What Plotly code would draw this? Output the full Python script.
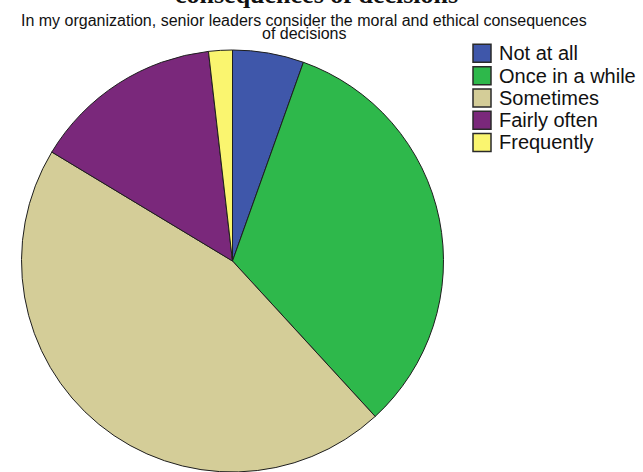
import plotly.graph_objects as go

W, H = 643, 472

categories = ["Not at all", "Once in a while", "Sometimes", "Fairly often", "Frequently"]
counts = [3, 18, 25, 8, 1]
colors = ["#3F57AA", "#2EB84B", "#D4CD98", "#7A287B", "#FAF56F"]

title_text = "consequences of decisions"
subtitle_line1 = "In my organization, senior leaders consider the moral and ethical consequences"
subtitle_line2 = "of decisions"


def px(x):
    return x / W


def py(y):
    return 1 - y / H


fig = go.Figure(
    go.Pie(
        labels=categories,
        values=counts,
        marker=dict(colors=colors, line=dict(color="#1e1e1e", width=1)),
        sort=False,
        direction="clockwise",
        rotation=0,
        textinfo="none",
        hoverinfo="label+value+percent",
        showlegend=False,
        domain=dict(x=[px(18), px(447)], y=[0, py(50)]),
    )
)

shapes = []
annotations = []

# manual legend
row_centers = [53.3, 75.8, 98.0, 120.2, 142.4]
for cat, col, yc in zip(categories, colors, row_centers):
    shapes.append(dict(
        type="rect", xref="paper", yref="paper",
        x0=px(473), x1=px(491), y0=py(yc - 9), y1=py(yc + 9),
        fillcolor=col, line=dict(color="#2a2a2a", width=1.5),
    ))
    annotations.append(dict(
        text=cat, x=px(497), y=py(yc), xref="paper", yref="paper",
        xanchor="left", yanchor="middle", showarrow=False,
        font=dict(family="Liberation Sans, Arial", size=20, color="#111111"),
    ))

# clipped main title
annotations.append(dict(
    text="<b>" + title_text + "</b>", x=px(316), y=py(-5.6), xref="paper", yref="paper",
    xanchor="center", yanchor="middle", showarrow=False,
    font=dict(family="Liberation Serif, Times New Roman", size=26, color="#111111"),
))
annotations.append(dict(
    text=subtitle_line1, x=px(304), y=py(21), xref="paper", yref="paper",
    xanchor="center", yanchor="middle", showarrow=False,
    font=dict(family="Liberation Sans, Arial", size=16, color="#111111"),
))
annotations.append(dict(
    text=subtitle_line2, x=px(304), y=py(33.5), xref="paper", yref="paper",
    xanchor="center", yanchor="middle", showarrow=False,
    font=dict(family="Liberation Sans, Arial", size=16, color="#111111"),
))

fig.update_layout(
    width=W, height=H,
    margin=dict(l=0, r=0, t=0, b=0),
    paper_bgcolor="white", plot_bgcolor="white",
    shapes=shapes, annotations=annotations,
)

fig.write_html("out.html")
